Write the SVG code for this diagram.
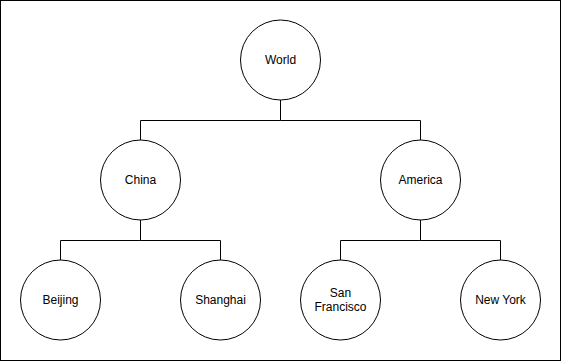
<svg xmlns="http://www.w3.org/2000/svg" width="561" height="361" viewBox="0 0 561 361">
  <style>
    .node circle { fill: #ffffff; stroke: #000000; stroke-width: 1; }
    .node text { font-family: "Liberation Sans", Arial, sans-serif; font-size: 12px; fill: #000000; text-anchor: middle; }
    .edges path { fill: none; stroke: #000000; stroke-width: 1; }
  </style>
  <rect x="0.5" y="0.5" width="560" height="360" fill="#ffffff" stroke="#000000" stroke-width="1"/>
  <g class="edges">
    <path d="M280.5 100 V120.5 H140.5 V140"/>
    <path d="M280.5 120.5 H420.5 V140"/>
    <path d="M140.5 220 V240.5 H60.5 V260"/>
    <path d="M140.5 240.5 H220.5 V260"/>
    <path d="M420.5 220 V240.5 H340.5 V260"/>
    <path d="M420.5 240.5 H500.5 V260"/>
  </g>
  <g id="world" class="node"><circle cx="280.5" cy="60" r="40"/><text x="280.5" y="64">World</text></g>
  <g id="china" class="node"><circle cx="140.5" cy="180" r="40"/><text x="140.5" y="184">China</text></g>
  <g id="america" class="node"><circle cx="420.5" cy="180" r="40"/><text x="420.5" y="184">America</text></g>
  <g id="beijing" class="node"><circle cx="60.5" cy="300" r="40"/><text x="60.5" y="304">Beijing</text></g>
  <g id="shanghai" class="node"><circle cx="220.5" cy="300" r="40"/><text x="220.5" y="304">Shanghai</text></g>
  <g id="san-francisco" class="node"><circle cx="340.5" cy="300" r="40"/><text x="340.5" y="297">San</text><text x="340.5" y="311">Francisco</text></g>
  <g id="new-york" class="node"><circle cx="500.5" cy="300" r="40"/><text x="500.5" y="304">New York</text></g>
</svg>
